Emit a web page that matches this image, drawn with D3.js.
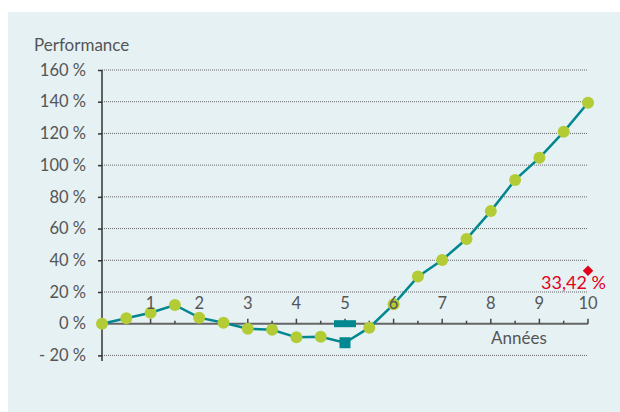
<!DOCTYPE html>
<html>
<head>
<meta charset="utf-8">
<script src="https://cdn.jsdelivr.net/npm/d3@7"></script>
<style>
    body { margin: 0; background: #fff; }
    svg text { font-family: Lato, "Open Sans", sans-serif; font-weight: 400; }
</style>
</head>
<body>
<svg id="graph" width="620" height="412"></svg>
<script>
const years = [0, 0.5, 1, 1.5, 2, 2.5, 3, 3.5, 4, 4.5, 5, 5.5, 6, 6.5, 7, 7.5, 8, 8.5, 9, 9.5, 10];
const perf = [0, 3.4, 6.9, 11.8, 3.8, 0.6, -3.2, -3.8, -8.6, -8.3, -12, -2.5, 12.2, 29.7, 40.2, 53.4, 71, 90.7, 104.6, 121, 139.3];
const yTicks = [-20, 0, 20, 40, 60, 80, 100, 120, 140, 160];
const xTicks = [1, 2, 3, 4, 5, 6, 7, 8, 9, 10];
const minorTicks = [0.5, 1.5, 2.5, 3.5, 4.5, 5.5, 6.5, 7.5, 8.5, 9.5];
const lowPoint = [5, -12];      // square marker
const zeroMark = [5, 0];        // bar on the axis
const target = [10, 33.42];
const targetLabel = "33,42 %";

const svg = d3.select("#graph");
const teal = "#00878f";
const green = "#b3cc35";
const grey = "#555";

svg.append("rect")
    .attr("x", 8).attr("y", 12)
    .attr("width", 612).attr("height", 400)
    .attr("fill", "#e6f1f4");

const x = d3.scaleLinear().domain([0, 10]).range([102, 588]);
const y = d3.scaleLinear().domain([0, 160]).range([323.7, 70]);

// dotted grid
svg.append("g")
    .selectAll("line")
    .data(yTicks.filter((d) => d !== 0))
    .join("line")
    .attr("x1", x(0)).attr("x2", x(10))
    .attr("y1", (d) => y(d)).attr("y2", (d) => y(d))
    .attr("stroke", "#666")
    .attr("stroke-width", 1)
    .attr("stroke-dasharray", "1,1");

// y axis
const yAxis = svg.append("g")
    .attr("transform", `translate(${x(0)},0)`)
    .call(d3.axisLeft(y).tickValues(yTicks).tickSize(4).tickPadding(12)
        .tickFormat((d) => (d < 0 ? "- " + Math.abs(d) : d) + " %"));
yAxis.select(".domain").remove();
yAxis.selectAll(".tick line").attr("stroke", "#333").attr("stroke-width", 1.5);
yAxis.selectAll("text").attr("font-size", 16.5).attr("fill", grey);
svg.append("line")
    .attr("x1", x(0)).attr("x2", x(0))
    .attr("y1", y(160)).attr("y2", y(-23.5))
    .attr("stroke", "#333").attr("stroke-width", 1.5);

// x axis at zero
svg.append("line")
    .attr("x1", x(0)).attr("x2", x(10))
    .attr("y1", y(0)).attr("y2", y(0))
    .attr("stroke", "#666").attr("stroke-width", 2);
svg.append("g")
    .selectAll("line")
    .data(xTicks)
    .join("line")
    .attr("x1", (d) => x(d)).attr("x2", (d) => x(d))
    .attr("y1", y(0)).attr("y2", y(0) - 5)
    .attr("stroke", "#444").attr("stroke-width", 1.5);
svg.append("g")
    .selectAll("line")
    .data(minorTicks)
    .join("line")
    .attr("x1", (d) => x(d)).attr("x2", (d) => x(d))
    .attr("y1", y(0)).attr("y2", y(0) - 3)
    .attr("stroke", "#444").attr("stroke-width", 1.5);

svg.append("text")
    .attr("x", 34).attr("y", 51)
    .attr("font-size", 17).attr("fill", grey)
    .text("Performance");
svg.append("text")
    .attr("x", 519).attr("y", 344)
    .attr("text-anchor", "middle")
    .attr("font-size", 17).attr("fill", grey)
    .text("Années");

// zero bar at year 5
svg.append("rect")
    .attr("x", x(zeroMark[0]) - 11).attr("y", y(zeroMark[1]) - 3.5)
    .attr("width", 22).attr("height", 7)
    .attr("fill", teal);

// performance line
const pts = years.map((d, i) => [x(d), y(perf[i])]);
svg.append("path")
    .attr("d", d3.line()(pts))
    .attr("stroke", teal)
    .attr("stroke-width", 2.5)
    .attr("fill", "none");

svg.append("g")
    .selectAll("circle")
    .data(years.map((d, i) => [d, perf[i]]).filter((d) => d[0] !== lowPoint[0]))
    .join("circle")
    .attr("cx", (d) => x(d[0]))
    .attr("cy", (d) => y(d[1]))
    .attr("r", 6)
    .attr("fill", green);

svg.append("rect")
    .attr("x", x(lowPoint[0]) - 5.5).attr("y", y(lowPoint[1]) - 5.5)
    .attr("width", 11).attr("height", 11)
    .attr("fill", teal);

// year labels drawn over the markers
svg.append("g")
    .selectAll("text")
    .data(xTicks)
    .join("text")
    .attr("x", (d) => x(d))
    .attr("y", 309)
    .attr("text-anchor", "middle")
    .attr("font-size", 16.5)
    .attr("fill", grey)
    .text((d) => d);

// target diamond
svg.append("path")
    .attr("d", d3.symbol().type(d3.symbolDiamond2).size(70)())
    .attr("transform", `translate(${x(target[0])},${y(target[1])})`)
    .attr("fill", "#e3001b");
svg.append("text")
    .attr("x", 606).attr("y", 289)
    .attr("text-anchor", "end")
    .attr("font-size", 18)
    .attr("fill", "#e3001b")
    .text(targetLabel);
</script>
</body>
</html>
